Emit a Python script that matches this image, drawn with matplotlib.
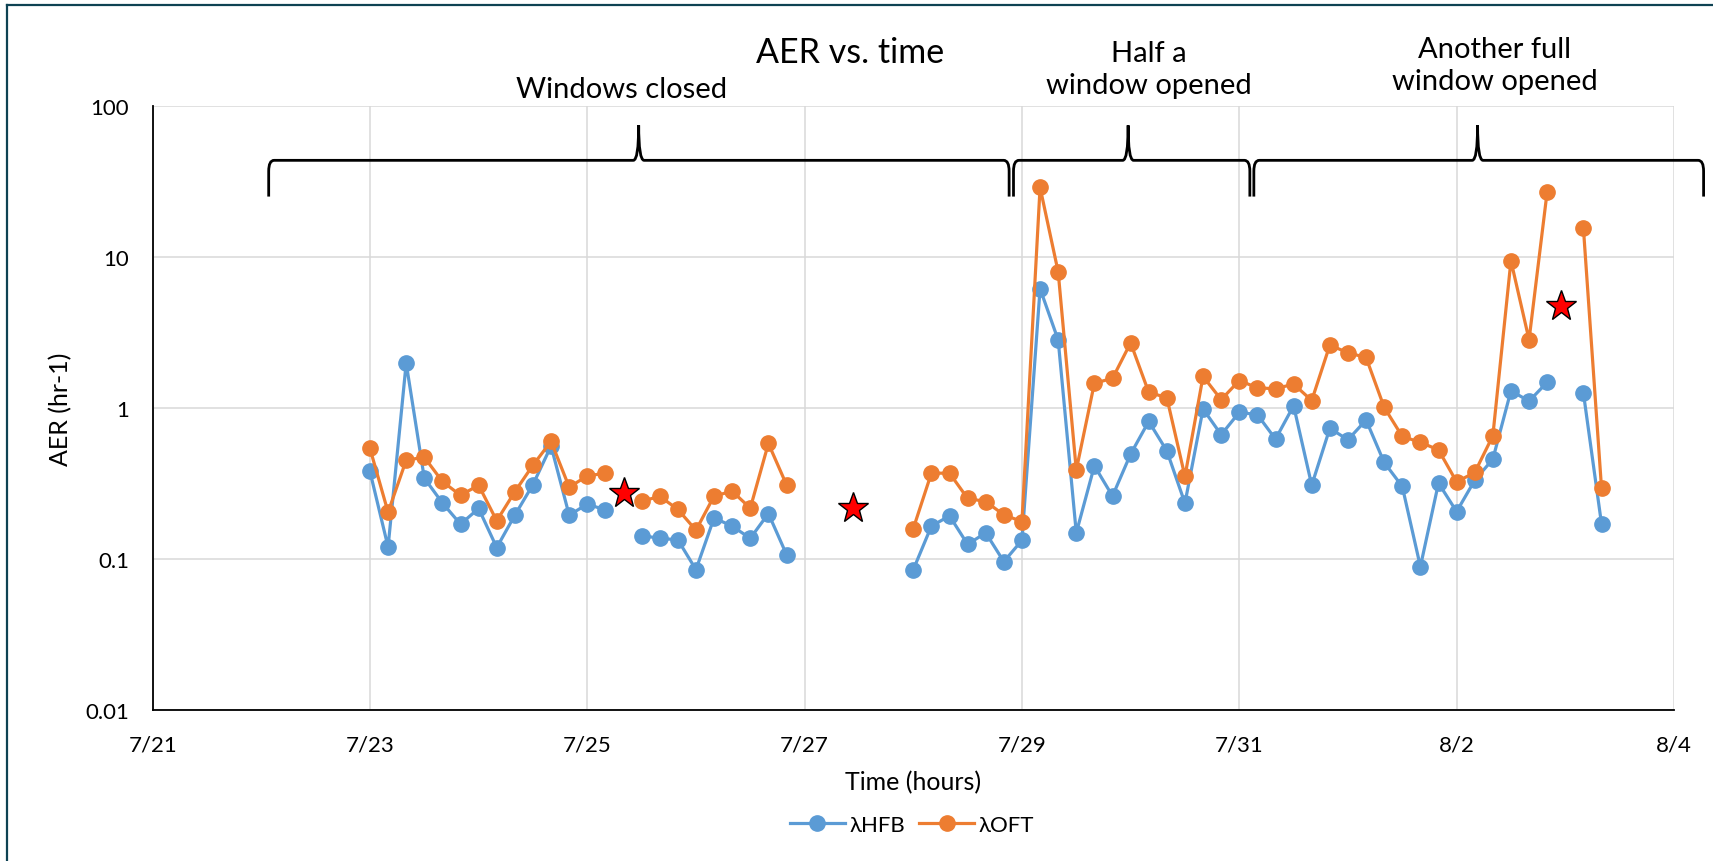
import matplotlib
matplotlib.use('Agg')
import numpy as np
import pandas as pd
import matplotlib.pyplot as plt
import matplotlib.dates as mdates
import matplotlib.transforms as mtransforms
from matplotlib.path import Path
from matplotlib.patches import PathPatch
from matplotlib.lines import Line2D
from matplotlib.ticker import FixedLocator, NullLocator, FuncFormatter

plt.rcParams['font.family'] = ['Lato', 'DejaVu Sans']

nan = np.nan

# samples every 4 hours starting 7/23 00:00
times = pd.date_range('2021-07-23 00:00', periods=69, freq='4h')

hfb = [0.38, 0.12, 1.98, 0.343, 0.235, 0.17, 0.216, 0.119, 0.195, 0.311,
       0.56, 0.195, 0.231, 0.211, nan, 0.143, 0.137, 0.134, 0.085, 0.187,
       0.165, 0.137, 0.2, 0.107, nan, nan, nan, nan, nan, nan,
       0.085, 0.165, 0.193, 0.125, 0.149, 0.096, 0.133, 6.17, 2.82, 0.149,
       0.414, 0.261, 0.495, 0.815, 0.52, 0.234, 0.985, 0.665, 0.936, 0.903,
       0.622, 1.035, 0.308, 0.733, 0.616, 0.832, 0.436, 0.302, 0.089, 0.318,
       0.206, 0.332, 0.458, 1.30, 1.11, 1.48, nan, 1.26, 0.171]

oft = [0.54, 0.204, 0.451, 0.472, 0.326, 0.264, 0.308, 0.179, 0.279, 0.418,
       0.601, 0.299, 0.355, 0.37, nan, 0.241, 0.26, 0.213, 0.155, 0.261,
       0.281, 0.217, 0.582, 0.31, nan, nan, nan, nan, nan, nan,
       0.159, 0.37, 0.37, 0.252, 0.24, 0.196, 0.177, 28.9, 7.97, 0.388,
       1.46, 1.57, 2.70, 1.27, 1.17, 0.352, 1.62, 1.135, 1.52, 1.36,
       1.34, 1.44, 1.12, 2.61, 2.32, 2.16, 1.01, 0.648, 0.592, 0.528,
       0.324, 0.374, 0.654, 9.44, 2.83, 27.1, nan, 15.6, 0.296]

star_times = pd.to_datetime(['2021-07-25 08:00', '2021-07-27 10:40', '2021-08-02 23:00'])
star_vals = [0.275, 0.216, 4.74]

x_ticks = pd.date_range('2021-07-21', '2021-08-04', freq='2D')
y_ticks = [0.01, 0.1, 1, 10, 100]

# brace spans: start, tip, end
braces = [('2021-07-22 01:38', '2021-07-25 11:21', '2021-07-28 21:10'),
          ('2021-07-28 22:08', '2021-07-29 23:27', '2021-07-31 02:20'),
          ('2021-07-31 03:13', '2021-08-02 04:38', '2021-08-04 06:33')]
brace_labels = ['Windows closed', 'Half a\nwindow opened', 'Another full\nwindow opened']
label_pos = [(0.3629, 0.8961), (0.6708, 0.9188), (0.8724, 0.9234)]

fig = plt.figure(figsize=(17.13, 8.62), dpi=100)
ax = fig.add_axes([0.0891, 0.1752, 0.8881, 0.7007])

ax.plot(times, hfb, color='#5B9BD5', lw=2.3, marker='o', ms=11, label='λHFB')
ax.plot(times, oft, color='#ED7D31', lw=2.3, marker='o', ms=11, label='λOFT')
ax.plot(star_times, star_vals, ls='none', marker='*', ms=23, mfc='red',
        mec='black', mew=1, zorder=5)

ax.set_yscale('log')
ax.set_ylim(0.01, 100)
ax.set_xlim(x_ticks[0], x_ticks[-1])
ax.set_xticks(x_ticks)
ax.xaxis.set_major_formatter(FuncFormatter(
    lambda v, p: f"{mdates.num2date(v).month}/{mdates.num2date(v).day}"))
ax.yaxis.set_major_locator(FixedLocator(y_ticks))
ax.yaxis.set_minor_locator(NullLocator())
ax.yaxis.set_major_formatter(FuncFormatter(lambda v, p: f"{v:g}"))

ax.grid(color='#d9d9d9', lw=1.1)
ax.set_axisbelow(True)
for s in ['top', 'right']:
    ax.spines[s].set_visible(False)
for s in ['left', 'bottom']:
    ax.spines[s].set_linewidth(1.3)
ax.tick_params(axis='both', length=0, labelsize=16)
ax.tick_params(axis='x', pad=18)
ax.tick_params(axis='y', pad=17)

ax.set_xlabel('Time (hours)', fontsize=18, labelpad=11)
ax.set_ylabel('AER (hr-1)', fontsize=18, labelpad=9)

fig.text(0.4962, 0.9385, 'AER vs. time', fontsize=24.5, ha='center', va='center')
for txt, (fx, fy) in zip(brace_labels, label_pos):
    fig.text(fx, fy, txt, fontsize=21, ha='center', va='center', linespacing=1.25)

# curly braces above the periods
trans = mtransforms.blended_transform_factory(ax.transData, ax.transAxes)
yb, ye, yt = 0.910, 0.850, 0.968
dx = 0.05
for b in braces:
    x0, xm, x1 = mdates.date2num(pd.to_datetime(list(b)))
    verts = [(x0, ye), (x0, yb - 0.018), (x0, yb), (x0 + dx, yb),
             (xm - dx, yb), (xm, yb), (xm, yt), (xm, yb), (xm + dx, yb),
             (x1 - dx, yb), (x1, yb), (x1, yb - 0.018), (x1, ye)]
    codes = [Path.MOVETO, Path.LINETO, Path.CURVE3, Path.CURVE3,
             Path.LINETO, Path.CURVE3, Path.CURVE3, Path.CURVE3, Path.CURVE3,
             Path.LINETO, Path.CURVE3, Path.CURVE3, Path.LINETO]
    ax.add_patch(PathPatch(Path(verts, codes), fill=False, lw=2, ec='black',
                           transform=trans, clip_on=False))

fig.legend(loc='center', bbox_to_anchor=(0.5324, 0.0418), ncol=2, frameon=False,
           fontsize=16, handlelength=2.5, handletextpad=0.2, columnspacing=0.6)

# frame edge on left and top
fig.add_artist(Line2D([0.0041, 0.0041], [0, 0.9935], color='#0e4253', lw=1.6,
                      transform=fig.transFigure))
fig.add_artist(Line2D([0.0041, 1], [0.9935, 0.9935], color='#0e4253', lw=1.6,
                      transform=fig.transFigure))

fig.savefig('out.png', dpi=100)
